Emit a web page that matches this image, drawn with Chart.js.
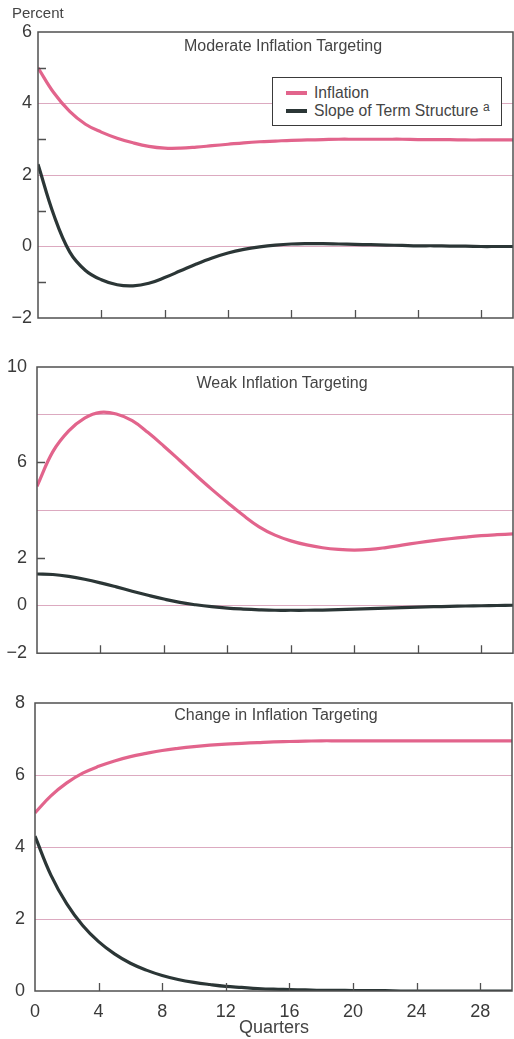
<!DOCTYPE html>
<html>
<head>
<meta charset="utf-8">
<script src="https://cdn.jsdelivr.net/npm/chart.js@4.4.1/dist/chart.umd.min.js"></script>
<style>
  html, body { margin: 0; padding: 0; background: #ffffff; }
  body { width: 514px; height: 1039px; position: relative; overflow: hidden;
         font-family: 'Liberation Sans', Arial, sans-serif; color: #444; }
  canvas { position: absolute; left: 0; }
  .txt { position: absolute; white-space: nowrap; line-height: 20px; height: 20px; }
  .ctr { transform: translateX(-50%); }
  #legend { position: absolute; left: 272px; top: 77px; width: 230px; height: 49px;
            border: 1.5px solid #3a3a3a; box-sizing: border-box; background: #fff; }
  .sw { position: absolute; left: 13px; width: 21px; height: 3.5px; }
</style>
</head>
<body>
<canvas id="c1" width="514" height="340" style="top:0px"></canvas>
<canvas id="c2" width="514" height="334" style="top:340px"></canvas>
<canvas id="c3" width="514" height="367" style="top:672px"></canvas>

<div class="txt" style="left:12px; top:3px; font-size:15px;">Percent</div>
<div class="txt ctr" style="left:283px; top:36px; font-size:16px;">Moderate Inflation Targeting</div>
<div class="txt ctr" style="left:282px; top:373px; font-size:16px;">Weak Inflation Targeting</div>
<div class="txt ctr" style="left:276px; top:705px; font-size:16px;">Change in Inflation Targeting</div>

<div id="legend">
  <div class="sw" style="top:13px; background:#e2648c;"></div>
  <div class="txt" style="left:41px; top:5px; font-size:15.7px;">Inflation</div>
  <div class="sw" style="top:31px; background:#2b3636;"></div>
  <div class="txt" style="left:41px; top:23px; font-size:15.7px;">Slope of Term Structure <span style="font-size:12px; position:relative; top:-5px;">a</span></div>
</div>

<div class="txt ctr" style="left:274px; top:1017px; font-size:18px;">Quarters</div>

<script>
// ---------- DATA ----------
const quarters = [0, 1, 2, 3, 4, 5, 6, 7, 8, 9, 10, 11, 12, 13, 14, 15, 16, 17, 18, 19, 20, 21, 22, 23, 24, 25, 26, 27, 28, 29, 30];

const seriesNames = ['Inflation', 'Slope of Term Structure'];

const moderateInflation = [5.0, 4.3, 3.78, 3.42, 3.2, 3.03, 2.9, 2.8, 2.75, 2.75, 2.78, 2.82, 2.86, 2.9, 2.93, 2.95, 2.97, 2.98, 2.99, 3.0, 3.0, 3.0, 3.0, 3.0, 2.99, 2.99, 2.99, 2.98, 2.98, 2.98, 2.98];
const moderateSlope = [2.3, 0.88, -0.15, -0.67, -0.93, -1.07, -1.1, -1.03, -0.87, -0.68, -0.49, -0.32, -0.18, -0.08, -0.01, 0.04, 0.07, 0.08, 0.08, 0.07, 0.06, 0.05, 0.04, 0.03, 0.02, 0.02, 0.01, 0.01, 0.0, 0.0, 0.0];

const weakInflation = [5.0, 6.45, 7.32, 7.86, 8.1, 8.03, 7.75, 7.25, 6.68, 6.08, 5.47, 4.88, 4.32, 3.78, 3.3, 2.95, 2.71, 2.54, 2.42, 2.35, 2.32, 2.35, 2.43, 2.53, 2.63, 2.72, 2.8, 2.87, 2.93, 2.97, 3.0];
const weakSlope = [1.32, 1.3, 1.22, 1.1, 0.95, 0.78, 0.6, 0.43, 0.27, 0.13, 0.03, -0.05, -0.11, -0.15, -0.18, -0.2, -0.2, -0.2, -0.19, -0.17, -0.15, -0.13, -0.11, -0.09, -0.07, -0.05, -0.04, -0.02, -0.01, 0.0, 0.01];

const changeInflation = [4.95, 5.42, 5.78, 6.05, 6.24, 6.39, 6.51, 6.6, 6.68, 6.74, 6.79, 6.83, 6.86, 6.88, 6.9, 6.92, 6.93, 6.94, 6.95, 6.95, 6.95, 6.95, 6.95, 6.95, 6.95, 6.95, 6.95, 6.95, 6.95, 6.95, 6.95];
const changeSlope = [4.3, 3.22, 2.42, 1.82, 1.37, 1.03, 0.77, 0.58, 0.43, 0.32, 0.24, 0.18, 0.13, 0.1, 0.07, 0.05, 0.04, 0.03, 0.02, 0.02, 0.01, 0.01, 0.01, 0.0, 0.0, 0.0, 0.0, 0.0, 0.0, 0.0, 0.0];

// tick labels / gridlines / minor tick marks
const xTickLabels = [0, 4, 8, 12, 16, 20, 24, 28];
const xTickMarks = [4, 8, 12, 16, 20, 24, 28];

const moderateYLabels = [-2, 0, 2, 4, 6];
const moderateYGrid = [0, 2, 4];
const moderateYMarks = [-1, 1, 3, 5];

const weakYLabels = [-2, 0, 2, 6, 10];
const weakYGrid = [0, 4, 8];
const weakYMarks = [2, 6];

const changeYLabels = [0, 2, 4, 6, 8];
const changeYGrid = [2, 4, 6];
const changeYMarks = [];

// ---------- STYLE ----------
const PINK = '#e2648c';
const DARK = '#2b3636';
const GRID = '#dcaac0';
const FRAME = '#505050';
Chart.defaults.font.family = "'Liberation Sans', Arial, sans-serif";
Chart.defaults.color = '#3a3a3a';

const framePlugin = {
  id: 'frame',
  afterDatasetsDraw(chart, args, opts) {
    const ctx = chart.ctx, a = chart.chartArea;
    const xs = chart.scales.x, ys = chart.scales.y;
    ctx.save();
    ctx.strokeStyle = FRAME;
    ctx.lineWidth = 1.5;
    ctx.strokeRect(a.left, a.top, a.right - a.left, a.bottom - a.top);
    ctx.lineWidth = 1.3;
    ctx.beginPath();
    (opts.xMarks || []).forEach(v => {
      const px = Math.round(xs.getPixelForValue(v)) + 0.5;
      ctx.moveTo(px, a.bottom);
      ctx.lineTo(px, a.bottom - 8);
    });
    (opts.yMarks || []).forEach(v => {
      const py = Math.round(ys.getPixelForValue(v)) + 0.5;
      ctx.moveTo(a.left, py);
      ctx.lineTo(a.left + 8, py);
    });
    ctx.stroke();
    ctx.restore();
  }
};

function makePanel(id, cfg) {
  const toPts = arr => quarters.map((q, i) => ({ x: q, y: arr[i] }));
  const yTickVals = Array.from(new Set(cfg.yLabels.concat(cfg.yGrid))).sort((a, b) => a - b);
  return new Chart(document.getElementById(id), {
    type: 'line',
    data: {
      datasets: [
        { label: seriesNames[0], data: toPts(cfg.infl), borderColor: PINK, borderWidth: 3.2,
          pointRadius: 0, tension: 0.4, fill: false },
        { label: seriesNames[1], data: toPts(cfg.slope), borderColor: DARK, borderWidth: 3.2,
          pointRadius: 0, tension: 0.4, fill: false }
      ]
    },
    options: {
      responsive: false,
      animation: false,
      devicePixelRatio: 1,
      layout: { padding: { top: cfg.padTop, right: cfg.padRight, left: 0, bottom: 0 } },
      plugins: {
        legend: { display: false },
        tooltip: { enabled: false },
        frame: { xMarks: xTickMarks, yMarks: cfg.yMarks }
      },
      scales: {
        x: {
          type: 'linear', min: 0, max: 30,
          afterBuildTicks: s => { s.ticks = xTickLabels.map(v => ({ value: v })); },
          afterFit: s => { s.height = cfg.xHeight; },
          grid: { display: false, drawTicks: false },
          border: { display: false },
          ticks: { display: cfg.showX, font: { size: 18 }, padding: 10, maxRotation: 0, autoSkip: false,
                   color: '#3a3a3a', callback: v => String(v) }
        },
        y: {
          type: 'linear', min: cfg.yMin, max: cfg.yMax,
          afterBuildTicks: s => { s.ticks = yTickVals.map(v => ({ value: v })); },
          afterFit: s => { s.width = cfg.left; },
          grid: {
            drawTicks: false,
            lineWidth: 1,
            color: c => (cfg.yGrid.includes(c.tick.value) ? GRID : 'rgba(0,0,0,0)')
          },
          border: { display: false },
          ticks: {
            font: { size: 18 }, padding: cfg.yPad, color: '#3a3a3a', autoSkip: false,
            callback: v => (cfg.yLabels.includes(v) ? (v < 0 ? '\u2212' + Math.abs(v) : String(v)) : '')
          }
        }
      }
    },
    plugins: [framePlugin]
  });
}

makePanel('c1', { infl: moderateInflation, slope: moderateSlope, yMin: -2, yMax: 6,
  yLabels: moderateYLabels, yGrid: moderateYGrid, yMarks: moderateYMarks,
  padTop: 32, padRight: 1, xHeight: 22, left: 38, yPad: 6, showX: false });

makePanel('c2', { infl: weakInflation, slope: weakSlope, yMin: -2, yMax: 10,
  yLabels: weakYLabels, yGrid: weakYGrid, yMarks: weakYMarks,
  padTop: 27, padRight: 1, xHeight: 17, left: 37, yPad: 10, showX: false });

makePanel('c3', { infl: changeInflation, slope: changeSlope, yMin: 0, yMax: 8,
  yLabels: changeYLabels, yGrid: changeYGrid, yMarks: changeYMarks,
  padTop: 31, padRight: 2, xHeight: 48, left: 35, yPad: 10, showX: true });
</script>
</body>
</html>
